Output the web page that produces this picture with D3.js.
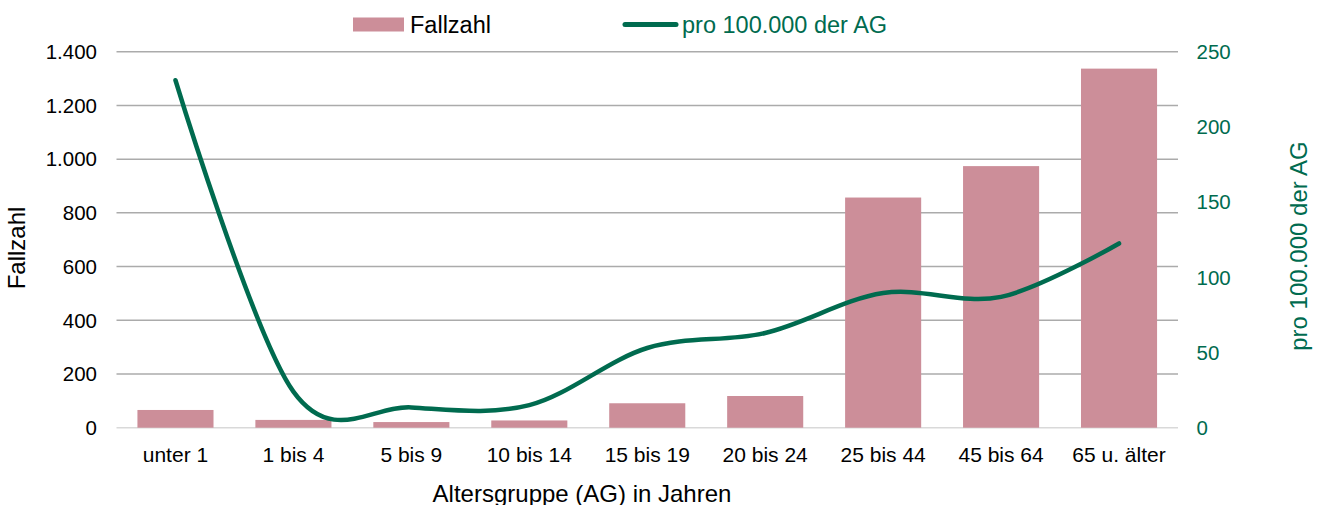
<!DOCTYPE html>
<html>
<head>
<meta charset="utf-8">
<script src="https://cdn.jsdelivr.net/npm/d3@7"></script>
<style>
  body { margin: 0; background: #fff; }
  svg { display: block; font-family: "Liberation Sans", Arial, sans-serif; }
</style>
</head>
<body>
<div class="chartDiv"></div>
<script>
'use strict';

// data
var ageGroups = ["unter 1", "1 bis 4", "5 bis 9", "10 bis 14", "15 bis 19", "20 bis 24", "25 bis 44", "45 bis 64", "65 u. älter"];
var caseCounts = [66, 29, 21, 27, 91, 118, 857, 974, 1337];
var ratePer100k = [231, 24, 13.5, 15, 53, 63, 89.5, 87, 122.5];
var leftTicks = [0, 200, 400, 600, 800, 1000, 1200, 1400];
var rightTicks = [0, 50, 100, 150, 200, 250];

var width = 1321, height = 505;
var plot = {left: 116.5, right: 1178, top: 51.7, bottom: 427.7};
var barColor = "#CC8E99", lineColor = "#006B4F";
var fmt = d3.formatLocale({decimal: ",", thousands: ".", grouping: [3], currency: ["", "€"]}).format(",");

const main = () => {
    var svg = d3.select(".chartDiv").append("svg")
        .attr("width", width).attr("height", height);

    var x = d3.scaleBand()
        .domain(ageGroups)
        .range([plot.left, plot.right])
        .paddingInner(0.355)
        .paddingOuter(0.1775);
    var yLeft = d3.scaleLinear().domain([0, 1400]).range([plot.bottom, plot.top]);
    var yRight = d3.scaleLinear().domain([0, 250]).range([plot.bottom, plot.top]);

    // gridlines
    svg.append("g")
        .selectAll("line")
        .data(leftTicks)
        .join("line")
        .attr("x1", plot.left).attr("x2", plot.right)
        .attr("y1", d => yLeft(d)).attr("y2", d => yLeft(d))
        .attr("stroke", d => d === 0 ? "#D9D9D9" : "#ABABAB")
        .attr("stroke-width", 1.5);

    // bars
    svg.append("g")
        .selectAll("rect")
        .data(caseCounts)
        .join("rect")
        .attr("x", (d, i) => x(ageGroups[i]))
        .attr("width", x.bandwidth())
        .attr("y", d => yLeft(d))
        .attr("height", d => yLeft(0) - yLeft(d))
        .attr("fill", barColor);

    // smoothed rate line
    var lineGenerator = d3.line()
        .x((d, i) => x(ageGroups[i]) + x.bandwidth() / 2)
        .y(d => yRight(d))
        .curve(d3.curveCardinal.tension(0));

    svg.append("path")
        .attr("d", lineGenerator(ratePer100k))
        .attr("fill", "none")
        .attr("stroke", lineColor)
        .attr("stroke-width", 4.5)
        .attr("stroke-linecap", "round");

    // left axis labels
    svg.append("g")
        .selectAll("text")
        .data(leftTicks)
        .join("text")
        .attr("x", 97)
        .attr("y", d => yLeft(d) + 7.3)
        .attr("text-anchor", "end")
        .attr("font-size", 20.5)
        .attr("fill", "#000")
        .text(d => fmt(d));

    // right axis labels
    svg.append("g")
        .selectAll("text")
        .data(rightTicks)
        .join("text")
        .attr("x", 1196.5)
        .attr("y", d => yRight(d) + 7.3)
        .attr("font-size", 20.5)
        .attr("fill", lineColor)
        .text(d => d);

    // category labels
    svg.append("g")
        .selectAll("text")
        .data(ageGroups)
        .join("text")
        .attr("x", d => x(d) + x.bandwidth() / 2)
        .attr("y", 461.5)
        .attr("text-anchor", "middle")
        .attr("font-size", 21)
        .attr("fill", "#000")
        .text(d => d);

    // axis titles
    svg.append("text")
        .attr("x", 582).attr("y", 501.5)
        .attr("text-anchor", "middle")
        .attr("font-size", 24)
        .text("Altersgruppe (AG) in Jahren");

    svg.append("text")
        .attr("transform", "translate(25,248) rotate(-90)")
        .attr("text-anchor", "middle")
        .attr("font-size", 24)
        .text("Fallzahl");

    svg.append("text")
        .attr("transform", "translate(1306.5,246) rotate(-90)")
        .attr("text-anchor", "middle")
        .attr("font-size", 24)
        .attr("fill", lineColor)
        .text("pro 100.000 der AG");

    // legend
    var legend = svg.append("g");
    legend.append("rect")
        .attr("x", 353).attr("y", 17.5).attr("width", 51).attr("height", 14)
        .attr("fill", barColor);
    legend.append("text")
        .attr("x", 410).attr("y", 32.5)
        .attr("font-size", 23.5)
        .text("Fallzahl");
    legend.append("line")
        .attr("x1", 625).attr("x2", 676).attr("y1", 24.5).attr("y2", 24.5)
        .attr("stroke", lineColor).attr("stroke-width", 5)
        .attr("stroke-linecap", "round");
    legend.append("text")
        .attr("x", 682).attr("y", 32.5)
        .attr("font-size", 23.5)
        .attr("fill", lineColor)
        .text("pro 100.000 der AG");
}

main();
</script>
</body>
</html>
